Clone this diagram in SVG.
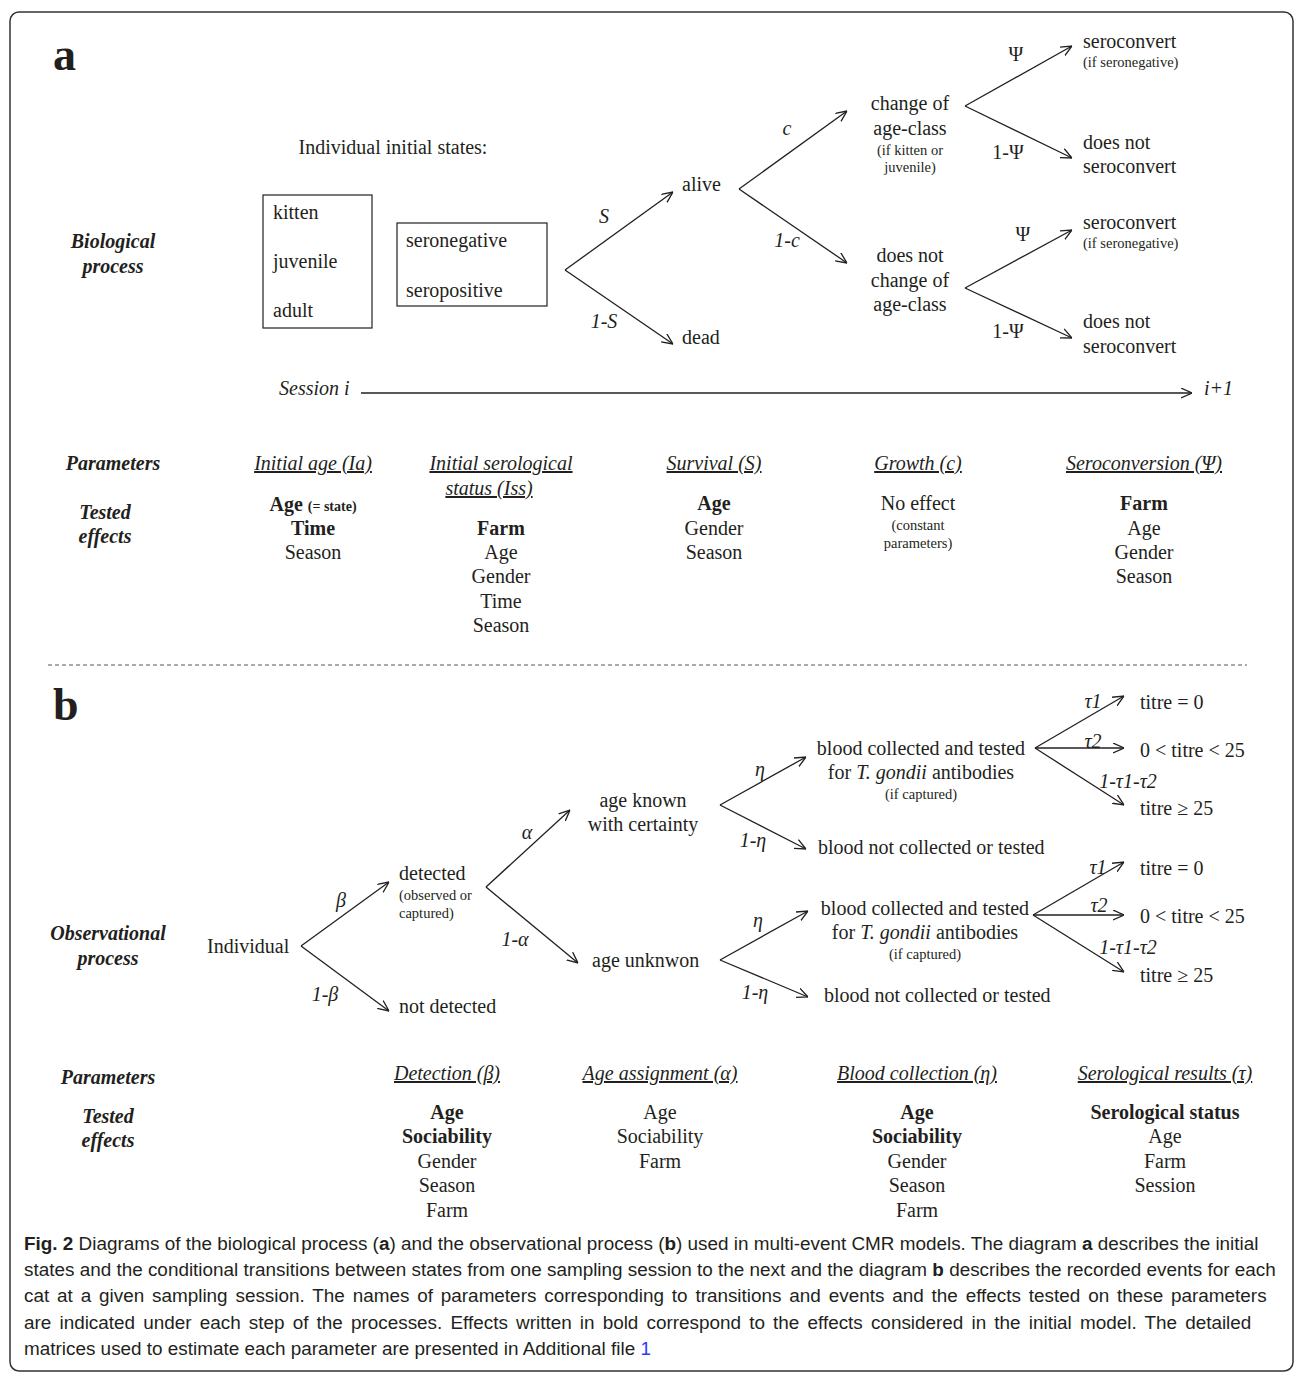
<svg xmlns="http://www.w3.org/2000/svg" width="1295" height="1374" viewBox="0 0 1295 1374">
<style>
.t{font-family:"Liberation Serif","Times New Roman",serif;font-size:20px;fill:#231f20}
.s{font-size:14.5px}
.i{font-style:italic}
.b{font-weight:bold}
.bi{font-weight:bold;font-style:italic}
.c{text-anchor:middle}
.u{text-decoration:underline}
.big{font-size:46px;font-weight:bold}
.cap{font-family:"Liberation Sans",Arial,sans-serif;font-size:18.9px;fill:#231f20}
.ln{stroke:#231f20;stroke-width:1.3;fill:none}
.box{stroke:#231f20;stroke-width:1.2;fill:none}
</style>
<defs>
<marker id="ah" viewBox="0 0 10 10" refX="10" refY="5" markerWidth="11" markerHeight="11" markerUnits="userSpaceOnUse" orient="auto">
<path d="M0,0.5 L10,5 L0,9.5" fill="none" stroke="#231f20" stroke-width="1.2"/>
</marker>
</defs>
<rect x="10" y="12" width="1283" height="1359" rx="9" fill="#fff" stroke="#333" stroke-width="1.5"/>

<g id="connectors" class="ln">
<line x1="565" y1="270" x2="673" y2="192" marker-end="url(#ah)"/>
<line x1="565" y1="270" x2="673" y2="344" marker-end="url(#ah)"/>
<line x1="739" y1="189" x2="847" y2="111" marker-end="url(#ah)"/>
<line x1="739" y1="189" x2="847" y2="263" marker-end="url(#ah)"/>
<line x1="965" y1="106" x2="1072" y2="46" marker-end="url(#ah)"/>
<line x1="965" y1="106" x2="1072" y2="158" marker-end="url(#ah)"/>
<line x1="965" y1="288" x2="1072" y2="230" marker-end="url(#ah)"/>
<line x1="965" y1="288" x2="1072" y2="338" marker-end="url(#ah)"/>
<line x1="361" y1="393" x2="1192" y2="393" marker-end="url(#ah)"/>
<line x1="301" y1="946" x2="389" y2="882" marker-end="url(#ah)"/>
<line x1="301" y1="946" x2="389" y2="1011" marker-end="url(#ah)"/>
<line x1="486" y1="887" x2="570" y2="810" marker-end="url(#ah)"/>
<line x1="486" y1="887" x2="578" y2="963" marker-end="url(#ah)"/>
<line x1="720" y1="805" x2="806" y2="757" marker-end="url(#ah)"/>
<line x1="720" y1="805" x2="806" y2="849" marker-end="url(#ah)"/>
<line x1="720" y1="960" x2="808" y2="911" marker-end="url(#ah)"/>
<line x1="720" y1="960" x2="808" y2="997" marker-end="url(#ah)"/>
<line x1="1035" y1="748" x2="1124" y2="696" marker-end="url(#ah)"/>
<line x1="1035" y1="748" x2="1124" y2="748" marker-end="url(#ah)"/>
<line x1="1035" y1="748" x2="1124" y2="805" marker-end="url(#ah)"/>
<line x1="1033" y1="915" x2="1124" y2="862" marker-end="url(#ah)"/>
<line x1="1033" y1="915" x2="1124" y2="915" marker-end="url(#ah)"/>
<line x1="1033" y1="915" x2="1124" y2="972" marker-end="url(#ah)"/>
</g>

<line x1="48" y1="665" x2="1247" y2="665" stroke="#555" stroke-width="1" stroke-dasharray="4,3"/>

<g id="part-a">
<text x="53" y="70" class="t big">a</text>
<text x="393" y="154" class="t c">Individual initial states:</text>
<text x="113" y="248" class="t bi c">Biological</text>
<text x="113" y="273" class="t bi c">process</text>
<text x="279" y="395" class="t i" font-size="15">Session i</text>
<text x="1204" y="395" class="t i" font-size="16">i+1</text>
</g>

<g id="box-age">
<rect x="263" y="195" width="109" height="133" class="box"/>
<text x="273" y="219" class="t">kitten</text>
<text x="273" y="268" class="t">juvenile</text>
<text x="273" y="317" class="t">adult</text>
</g>
<g id="box-sero">
<rect x="397" y="223" width="150" height="83" class="box"/>
<text x="406" y="247" class="t">seronegative</text>
<text x="406" y="297" class="t">seropositive</text>
</g>

<g id="node-alive"><text x="682" y="191" class="t">alive</text></g>
<g id="node-dead"><text x="682" y="344" class="t">dead</text></g>
<g id="node-change">
<text x="910" y="110" class="t c">change of</text>
<text x="910" y="135" class="t c">age-class</text>
<text x="910" y="155" class="t s c">(if kitten or</text>
<text x="910" y="172" class="t s c">juvenile)</text>
</g>
<g id="node-nochange">
<text x="910" y="262" class="t c">does not</text>
<text x="910" y="287" class="t c">change of</text>
<text x="910" y="311" class="t c">age-class</text>
</g>
<g id="node-sero1">
<text x="1083" y="48" class="t">seroconvert</text>
<text x="1083" y="67" class="t s">(if seronegative)</text>
</g>
<g id="node-nosero1">
<text x="1083" y="149" class="t">does not</text>
<text x="1083" y="173" class="t">seroconvert</text>
</g>
<g id="node-sero2">
<text x="1083" y="229" class="t">seroconvert</text>
<text x="1083" y="248" class="t s">(if seronegative)</text>
</g>
<g id="node-nosero2">
<text x="1083" y="328" class="t">does not</text>
<text x="1083" y="353" class="t">seroconvert</text>
</g>

<g id="labels-a">
<text x="604" y="223" class="t i c">S</text>
<text x="604" y="328" class="t i c">1-S</text>
<text x="787" y="135" class="t i c">c</text>
<text x="787" y="247" class="t i c">1-c</text>
<text x="1016" y="61" class="t c">Ψ</text>
<text x="1008" y="159" class="t c">1-Ψ</text>
<text x="1023" y="241" class="t c">Ψ</text>
<text x="1008" y="338" class="t c">1-Ψ</text>
</g>

<g id="params-a">
<text x="113" y="470" class="t bi c">Parameters</text>
<text x="105" y="519" class="t bi c">Tested</text>
<text x="105" y="543" class="t bi c">effects</text>
<text x="313" y="470" class="t i c u">Initial age (Ia)</text>
<text x="313" y="511" class="t b c">Age <tspan font-size="14">(= state)</tspan></text>
<text x="313" y="535" class="t b c">Time</text>
<text x="313" y="559" class="t c">Season</text>
<text x="501" y="470" class="t i c u">Initial  serological</text>
<text x="489" y="495" class="t i c u">status (Iss)</text>
<text x="501" y="535" class="t b c">Farm</text>
<text x="501" y="559" class="t c">Age</text>
<text x="501" y="583" class="t c">Gender</text>
<text x="501" y="608" class="t c">Time</text>
<text x="501" y="632" class="t c">Season</text>
<text x="714" y="470" class="t i c u">Survival (S)</text>
<text x="714" y="510" class="t b c">Age</text>
<text x="714" y="535" class="t c">Gender</text>
<text x="714" y="559" class="t c">Season</text>
<text x="918" y="470" class="t i c u">Growth (c)</text>
<text x="918" y="510" class="t c">No effect</text>
<text x="918" y="530" class="t s c">(constant</text>
<text x="918" y="548" class="t s c">parameters)</text>
<text x="1144" y="470" class="t i c u">Seroconversion (Ψ)</text>
<text x="1144" y="510" class="t b c">Farm</text>
<text x="1144" y="535" class="t c">Age</text>
<text x="1144" y="559" class="t c">Gender</text>
<text x="1144" y="583" class="t c">Season</text>
</g>

<g id="part-b">
<text x="53" y="720" class="t big">b</text>
<text x="108" y="940" class="t bi c">Observational</text>
<text x="108" y="965" class="t bi c">process</text>
</g>
<g id="node-individual"><text x="207" y="953" class="t">Individual</text></g>
<g id="node-detected">
<text x="399" y="880" class="t">detected</text>
<text x="399" y="900" class="t s">(observed or</text>
<text x="399" y="918" class="t s">captured)</text>
</g>
<g id="node-notdetected"><text x="399" y="1013" class="t">not detected</text></g>
<g id="node-ageknown">
<text x="643" y="807" class="t c">age known</text>
<text x="643" y="831" class="t c">with certainty</text>
</g>
<g id="node-ageunknown"><text x="592" y="967" class="t">age unknwon</text></g>
<g id="node-blood1">
<text x="921" y="755" class="t c">blood collected and tested</text>
<text x="921" y="779" class="t c">for <tspan class="i">T. gondii</tspan> antibodies</text>
<text x="921" y="799" class="t s c">(if captured)</text>
</g>
<g id="node-noblood1"><text x="818" y="854" class="t">blood not collected or tested</text></g>
<g id="node-blood2">
<text x="925" y="915" class="t c">blood collected and tested</text>
<text x="925" y="939" class="t c">for <tspan class="i">T. gondii</tspan> antibodies</text>
<text x="925" y="959" class="t s c">(if captured)</text>
</g>
<g id="node-noblood2"><text x="824" y="1002" class="t">blood not collected or tested</text></g>
<g id="node-titres1">
<text x="1140" y="709" class="t">titre = 0</text>
<text x="1140" y="757" class="t">0 &lt; titre &lt; 25</text>
<text x="1140" y="815" class="t">titre ≥ 25</text>
</g>
<g id="node-titres2">
<text x="1140" y="875" class="t">titre = 0</text>
<text x="1140" y="923" class="t">0 &lt; titre &lt; 25</text>
<text x="1140" y="982" class="t">titre ≥ 25</text>
</g>

<g id="labels-b">
<text x="341" y="907" class="t i c">β</text>
<text x="325" y="1001" class="t i c">1-β</text>
<text x="527" y="839" class="t i c">α</text>
<text x="515" y="946" class="t i c">1-α</text>
<text x="760" y="776" class="t i c">η</text>
<text x="753" y="847" class="t i c">1-η</text>
<text x="758" y="927" class="t i c">η</text>
<text x="755" y="999" class="t i c">1-η</text>
<text x="1093" y="708" class="t i c">τ1</text>
<text x="1093" y="748" class="t i c">τ2</text>
<text x="1128" y="788" class="t i c">1-τ1-τ2</text>
<text x="1098" y="874" class="t i c">τ1</text>
<text x="1099" y="912" class="t i c">τ2</text>
<text x="1128" y="954" class="t i c">1-τ1-τ2</text>
</g>

<g id="params-b">
<text x="108" y="1084" class="t bi c">Parameters</text>
<text x="108" y="1123" class="t bi c">Tested</text>
<text x="108" y="1147" class="t bi c">effects</text>
<text x="447" y="1080" class="t i c u">Detection (β)</text>
<text x="447" y="1119" class="t b c">Age</text>
<text x="447" y="1143" class="t b c">Sociability</text>
<text x="447" y="1168" class="t c">Gender</text>
<text x="447" y="1192" class="t c">Season</text>
<text x="447" y="1217" class="t c">Farm</text>
<text x="660" y="1080" class="t i c u">Age assignment (α)</text>
<text x="660" y="1119" class="t c">Age</text>
<text x="660" y="1143" class="t c">Sociability</text>
<text x="660" y="1168" class="t c">Farm</text>
<text x="917" y="1080" class="t i c u">Blood collection (η)</text>
<text x="917" y="1119" class="t b c">Age</text>
<text x="917" y="1143" class="t b c">Sociability</text>
<text x="917" y="1168" class="t c">Gender</text>
<text x="917" y="1192" class="t c">Season</text>
<text x="917" y="1217" class="t c">Farm</text>
<text x="1165" y="1080" class="t i c u">Serological results (τ)</text>
<text x="1165" y="1119" class="t b c">Serological status</text>
<text x="1165" y="1143" class="t c">Age</text>
<text x="1165" y="1168" class="t c">Farm</text>
<text x="1165" y="1192" class="t c">Session</text>
</g>

<g id="caption">
<text x="24" y="1250" class="cap"><tspan font-weight="bold">Fig. 2</tspan> Diagrams of the biological process (<tspan font-weight="bold">a</tspan>) and the observational process (<tspan font-weight="bold">b</tspan>) used in multi-event CMR models. The diagram <tspan font-weight="bold">a</tspan> describes the initial</text>
<text x="24" y="1276" class="cap">states and the conditional transitions between states from one sampling session to the next and the diagram <tspan font-weight="bold">b</tspan> describes the recorded events for each</text>
<text x="24" y="1302" class="cap" word-spacing="2.6">cat at a given sampling session. The names of parameters corresponding to transitions and events and the effects tested on these parameters</text>
<text x="24" y="1329" class="cap" word-spacing="2.9">are indicated under each step of the processes. Effects written in bold correspond to the effects considered in the initial model. The detailed</text>
<text x="24" y="1355" class="cap">matrices used to estimate each parameter are presented in Additional file <tspan fill="#2b3cff">1</tspan></text>
</g>
</svg>
